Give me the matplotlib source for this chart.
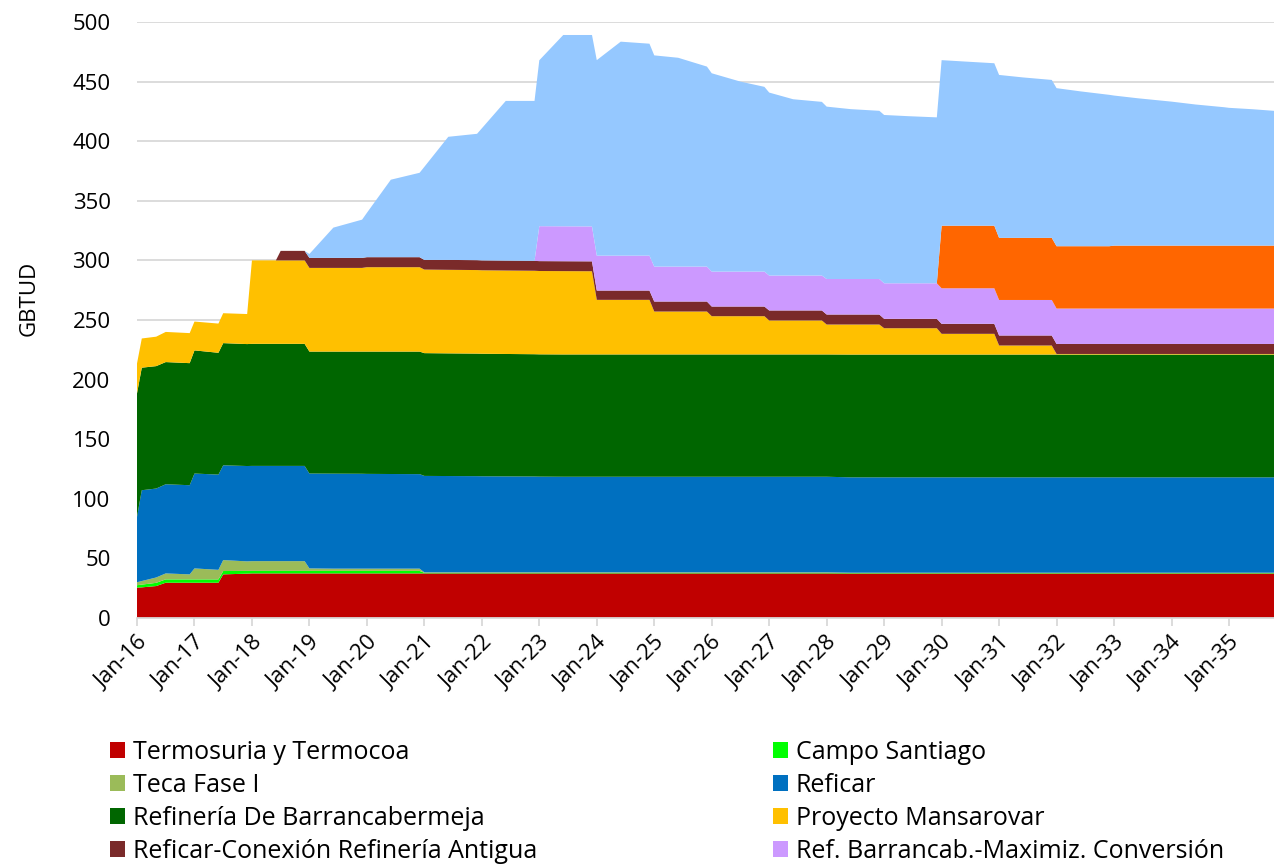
import matplotlib
matplotlib.use("Agg")
import matplotlib.pyplot as plt
from matplotlib.patches import Patch

plt.rcParams['font.family'] = ['Open Sans', 'DejaVu Sans']

# months counted from Jan-16 at the points where the curves bend
months = [0, 1, 4, 6, 11, 12, 17, 18, 23, 24, 29, 30, 35, 36, 41, 47, 48, 53, 59, 60,
          65, 71, 72, 77, 83, 84, 89, 95, 96, 101, 107, 108, 113, 119, 120, 126, 131, 132, 137, 143,
          144, 149, 155, 156, 161, 167, 168, 173, 179, 180, 185, 191, 192, 197, 203, 204, 209, 215, 216, 221,
          227, 228, 233, 239]

termosuria = [25.5, 25.7, 26.8, 29.6, 29.6, 29.6, 29.6, 36.6, 37.2, 37.4, 37.4, 37.4, 37.4, 37.4, 37.4, 37.4, 37.4, 37.4, 37.4, 37.4,
              37.4, 37.4, 37.4, 37.4, 37.4, 37.4, 37.4, 37.4, 37.4, 37.4, 37.4, 37.4, 37.4, 37.4, 37.4, 37.4, 37.4, 37.4, 37.4, 37.4,
              37.4, 37.3, 37.3, 37.3, 37.3, 37.3, 37.3, 37.3, 37.3, 37.3, 37.3, 37.3, 37.3, 37.3, 37.3, 37.3, 37.3, 37.3, 37.3, 37.3,
              37.3, 37.3, 37.3, 37.3]
santiago = [2.0, 2.3, 2.7, 2.8, 2.8, 2.8, 2.8, 2.8, 2.3, 2.1, 2.1, 2.1, 2.1, 2.1, 2.1, 2.1, 2.1, 2.1, 2.1, 0.5,
            0.5, 0.5, 0.5, 0.5, 0.5, 0.5, 0.5, 0.5, 0.5, 0.5, 0.5, 0.5, 0.5, 0.5, 0.5, 0.5, 0.5, 0.5, 0.5, 0.5,
            0.5, 0.4, 0.4, 0.4, 0.4, 0.4, 0.4, 0.4, 0.4, 0.4, 0.4, 0.4, 0.4, 0.4, 0.4, 0.4, 0.4, 0.4, 0.4, 0.4,
            0.4, 0.4, 0.4, 0.4]
teca = [2.5, 3.0, 4.5, 5.0, 4.2, 9.2, 8.0, 9.2, 8.0, 8.2, 8.2, 8.2, 8.2, 2.1, 1.9, 1.9, 1.9, 1.9, 1.9, 0.4,
        0.4, 0.4, 0.4, 0.4, 0.4, 0.4, 0.4, 0.4, 0.4, 0.4, 0.4, 0.4, 0.4, 0.4, 0.4, 0.4, 0.4, 0.4, 0.4, 0.4,
        0.4, 0.3, 0.3, 0.3, 0.3, 0.3, 0.3, 0.3, 0.3, 0.3, 0.3, 0.3, 0.3, 0.3, 0.3, 0.3, 0.3, 0.3, 0.3, 0.3,
        0.3, 0.3, 0.3, 0.3]
reficar = [54.8, 76.2, 74.6, 74.8, 74.8, 79.6, 79.9, 79.5, 80.0, 79.9, 79.9, 79.9, 79.9, 79.6, 79.7, 79.6, 79.5, 79.4, 79.3, 80.9,
           80.8, 80.7, 80.6, 80.5, 80.4, 80.3, 80.2, 80.2, 80.2, 80.2, 80.2, 80.2, 80.2, 80.2, 80.2, 80.2, 80.2, 80.2, 80.2, 80.2,
           80.2, 80.0, 80.0, 80.0, 80.0, 80.0, 80.0, 80.0, 80.0, 80.0, 80.0, 80.0, 80.0, 80.0, 80.0, 80.0, 80.0, 80.0, 80.0, 80.0,
           80.0, 80.0, 80.0, 80.0]
barranca = [103.6, 102.8, 102.7, 102.5, 102.4, 103.3, 102.2, 102.5, 102.3, 102.4, 102.4, 102.4, 102.4, 102.3, 102.4, 102.5, 102.6, 102.7, 102.8, 103.0,
            102.9, 102.8, 102.8, 102.7, 102.6, 102.6, 102.6, 102.6, 102.6, 102.6, 102.6, 102.6, 102.6, 102.6, 102.6, 102.6, 102.6, 102.6, 102.6, 102.6,
            102.6, 103.0, 103.0, 103.0, 103.0, 103.0, 103.0, 103.0, 103.0, 103.0, 103.0, 103.0, 103.0, 103.0, 103.0, 103.0, 103.0, 103.0, 103.0, 103.0,
            103.0, 103.0, 103.0, 103.0]
mansarovar = [25.1, 24.5, 24.7, 25.3, 25.2, 24.2, 24.5, 25.1, 25.2, 70.0, 70.0, 70.0, 70.0, 70.2, 70.2, 70.2, 70.8, 70.8, 70.8, 70.1,
              70.1, 70.1, 70.0, 70.0, 70.0, 69.9, 69.9, 69.8, 45.8, 45.8, 45.8, 36.0, 36.0, 36.0, 32.1, 32.1, 32.1, 28.5, 28.5, 28.5,
              25.1, 25.2, 25.2, 22.1, 22.1, 22.1, 17.4, 17.4, 17.4, 7.6, 7.6, 7.6, 0.5, 0.5, 0.5, 0.5, 0.5, 0.5, 0.5, 0.5,
              0.5, 0.5, 0.5, 0.5]
conexion = [0, 0, 0, 0, 0, 0, 0, 0, 0, 0, 0, 8.0, 8.0, 8.4, 8.4, 8.4, 8.4, 8.4, 8.4, 8.1,
            8.3, 8.3, 8.3, 8.3, 8.3, 8.3, 8.3, 8.3, 7.8, 7.8, 7.8, 8.4, 8.4, 8.4, 8.1, 8.1, 8.1, 8.4, 8.4, 8.4,
            8.4, 8.4, 8.4, 7.9, 7.9, 7.9, 8.4, 8.4, 8.4, 8.4, 8.4, 8.4, 8.4, 8.4, 8.4, 8.4, 8.4, 8.4, 8.4, 8.4,
            8.4, 8.4, 8.4, 8.4]
maximiz = [0, 0, 0, 0, 0, 0, 0, 0, 0, 0, 0, 0, 0, 0, 0, 0, 0, 0, 0, 0,
           0, 0, 0, 0, 0, 29.3, 29.3, 29.3, 29.3, 29.3, 29.3, 29.3, 29.3, 29.3, 29.3, 29.3, 29.3, 29.3, 29.3, 29.3,
           29.8, 29.8, 29.8, 29.8, 29.8, 29.8, 29.8, 29.8, 29.8, 29.8, 29.8, 29.8, 29.7, 29.7, 29.7, 29.7, 29.7, 29.7, 29.7, 29.7,
           29.7, 29.7, 29.7, 29.7]
naranja = [0, 0, 0, 0, 0, 0, 0, 0, 0, 0, 0, 0, 0, 0, 0, 0, 0, 0, 0, 0,
           0, 0, 0, 0, 0, 0, 0, 0, 0, 0, 0, 0, 0, 0, 0, 0, 0, 0, 0, 0,
           0, 0, 0, 0, 0, 0, 52.5, 52.5, 52.5, 52.1, 52.1, 52.1, 52.3, 52.3, 52.3, 52.8, 52.8, 52.8, 52.8, 52.8,
           52.8, 52.8, 52.8, 52.8]
celeste = [0, 0, 0, 0, 0, 0, 0, 0, 0, 0, 0, 0, 0, 3.3, 25.4, 32.1, 37.2, 65.0, 70.8, 78.1,
           103.3, 106.0, 110.8, 134.0, 134.2, 139.2, 160.5, 160.6, 164.0, 179.5, 177.8, 177.2, 175.2, 167.8, 166.4, 159.4, 155.0, 153.5, 147.9, 145.7,
           144.6, 142.5, 141.1, 141.2, 140.2, 139.2, 138.9, 137.7, 136.3, 136.7, 134.6, 132.5, 132.6, 129.9, 127.0, 125.9, 123.6, 121.2, 120.8, 118.4,
           116.1, 115.6, 114.4, 112.6]

series = [termosuria, santiago, teca, reficar, barranca, mansarovar, conexion, maximiz, naranja, celeste]
names = ['Termosuria y Termocoa', 'Campo Santiago', 'Teca Fase I', 'Reficar',
         'Refinería De Barrancabermeja', 'Proyecto Mansarovar',
         'Reficar-Conexión Refinería Antigua', 'Ref. Barrancab.-Maximiz. Conversión',
         '', '']
colors = ['#C00000', '#00FF00', '#9BBB59', '#0070C0', '#006600', '#FFC000',
          '#7A2A2A', '#CC99FF', '#FF6600', '#95C8FF']

tick_months = [0, 12, 24, 36, 48, 60, 72, 84, 96, 108, 120, 132, 144, 156, 168, 180, 192, 204, 216, 228]
tick_labels = ['Jan-16', 'Jan-17', 'Jan-18', 'Jan-19', 'Jan-20', 'Jan-21', 'Jan-22', 'Jan-23', 'Jan-24', 'Jan-25',
               'Jan-26', 'Jan-27', 'Jan-28', 'Jan-29', 'Jan-30', 'Jan-31', 'Jan-32', 'Jan-33', 'Jan-34', 'Jan-35']

W, H = 1274, 865
fig = plt.figure(figsize=(W / 100, H / 100), dpi=100)
ax = fig.add_axes([137 / W, 1 - 618 / H, 1 - 137 / W, (618 - 22) / H])

ax.stackplot(months, *series, colors=colors, linewidth=0, zorder=2)

ax.set_xlim(0, 237.4)
ax.set_ylim(0, 500)
ax.set_yticks(range(0, 501, 50))
ax.grid(axis='y', color='#D9D9D9', linewidth=1.3, zorder=0)
ax.set_axisbelow(True)
for s in ['top', 'right', 'left']:
    ax.spines[s].set_visible(False)
ax.spines['bottom'].set_color('#D9D9D9')
ax.spines['bottom'].set_linewidth(1.3)

ax.set_xticks(tick_months)
ax.set_xticklabels(tick_labels, rotation=45, ha='right', rotation_mode='anchor')
ax.tick_params(axis='x', direction='out', length=6, width=1.3, color='#D9D9D9',
               labelsize=16, pad=4)
ax.tick_params(axis='y', length=0, labelsize=16, pad=19)
ax.set_ylabel('GBTUD', fontsize=16)
ax.yaxis.set_label_coords(-0.086, 0.537)

# legend: two columns, rows read left to right
col1 = [0, 2, 4, 6]
col2 = [1, 3, 5, 7]
for idx, x0 in [(col1, 100), (col2, 763)]:
    handles = [Patch(facecolor=colors[i], edgecolor='none') for i in idx]
    labels = [names[i] for i in idx]
    leg = fig.legend(handles, labels, loc='upper left',
                     bbox_to_anchor=(x0 / W, 1 - 730 / H), frameon=False,
                     fontsize=18, handlelength=0.6, handleheight=0.6,
                     handletextpad=0.32, labelspacing=0.32, borderaxespad=0)

fig.savefig('out.png', dpi=100)
